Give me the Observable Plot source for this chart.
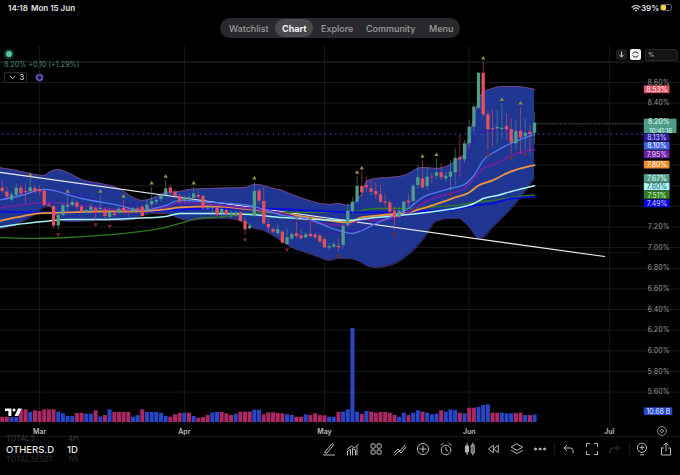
<!DOCTYPE html>
<html><head><meta charset="utf-8">
<script src="https://cdn.jsdelivr.net/npm/d3@7"></script>
<script src="https://cdn.jsdelivr.net/npm/@observablehq/plot@0.6"></script>
<style>
html,body{margin:0;padding:0;background:#000;width:680px;height:475px;overflow:hidden;font-family:Inter,Roboto,sans-serif}
#wrap{position:relative;width:680px;height:475px}
#chart{position:absolute;left:0;top:0}
.t{position:absolute;white-space:nowrap;line-height:1}
svg.ic{position:absolute;overflow:visible}
</style></head><body>
<div id="wrap"><div id="chart"></div><div id="chrome"></div></div>
<script>
// ---- data: daily candles, day 0 = 21 Feb ----
const opens=[7.576,7.540,7.460,7.505,7.576,7.544,7.540,7.573,7.560,7.547,7.414,7.398,7.211,7.311,7.392,7.408,7.434,7.392,7.334,7.360,7.376,7.369,7.366,7.292,7.327,7.334,7.382,7.350,7.343,7.373,7.392,7.360,7.414,7.440,7.466,7.505,7.579,7.537,7.498,
7.457,7.463,7.479,7.505,7.495,7.373,7.376,7.385,7.327,7.360,7.311,7.311,7.337,7.253,7.182,7.301,7.547,7.447,7.224,7.175,7.134,7.150,7.030,7.085,7.134,7.114,7.095,7.127,7.121,7.111,7.079,6.995,7.004,7.014,7.020,7.214,7.350,7.440,
7.592,7.600,7.569,7.544,7.511,7.444,7.434,7.353,7.295,7.343,7.450,7.447,7.602,7.666,7.592,7.682,7.692,7.725,7.666,7.682,7.725,7.870,7.850,8.006,8.167,8.351,8.690,8.287,8.151,8.151,8.144,8.173,8.144,8.006,8.128,8.077,8.119,8.109];
const closes=[7.544,7.489,7.511,7.576,7.521,7.531,7.579,7.540,7.540,7.408,7.402,7.208,7.311,7.408,7.408,7.440,7.392,7.343,7.360,7.392,7.337,7.379,7.301,7.343,7.311,7.373,7.343,7.337,7.376,7.360,7.301,7.414,7.447,7.457,7.505,7.570,7.528,7.498,7.440,
7.479,7.482,7.521,7.489,7.376,7.385,7.392,7.311,7.369,7.321,7.337,7.337,7.253,7.172,7.208,7.544,7.450,7.230,7.192,7.150,7.175,7.043,7.095,7.124,7.108,7.088,7.124,7.108,7.095,7.053,6.998,7.011,7.027,6.998,7.205,7.353,7.440,7.592,
7.531,7.580,7.537,7.511,7.440,7.431,7.343,7.288,7.353,7.440,7.431,7.595,7.676,7.579,7.682,7.676,7.725,7.676,7.692,7.731,7.867,7.850,8.006,8.167,8.361,8.690,8.287,8.144,8.141,8.167,8.157,8.141,8.015,8.128,8.064,8.109,8.096,8.206];
const highs=[7.650,7.586,7.537,7.618,7.602,7.618,7.666,7.602,7.602,7.560,7.430,7.408,7.327,7.424,7.505,7.473,7.457,7.408,7.376,7.424,7.392,7.505,7.385,7.376,7.350,7.392,7.457,7.366,7.392,7.392,7.408,7.457,7.586,7.479,7.521,7.650,7.602,7.560,7.521,
7.505,7.521,7.586,7.553,7.505,7.408,7.408,7.398,7.408,7.376,7.360,7.353,7.350,7.279,7.230,7.634,7.570,7.586,7.279,7.198,7.230,7.166,7.182,7.150,7.247,7.166,7.144,7.247,7.140,7.134,7.095,7.037,7.053,7.085,7.224,7.424,7.489,7.689,
7.731,7.682,7.650,7.634,7.602,7.521,7.456,7.392,7.392,7.456,7.521,7.618,7.796,7.844,7.779,7.715,7.860,7.812,7.731,7.844,7.957,8.086,8.038,8.232,8.377,8.690,8.797,8.329,8.329,8.329,8.393,8.297,8.248,8.232,8.361,8.248,8.183,8.312];
const lows=[7.521,7.457,7.440,7.473,7.505,7.424,7.521,7.521,7.505,7.392,7.390,7.182,7.166,7.295,7.327,7.392,7.360,7.327,7.321,7.327,7.263,7.327,7.279,7.247,7.295,7.321,7.327,7.301,7.327,7.327,7.295,7.327,7.392,7.408,7.440,7.489,7.505,7.473,7.424,
7.424,7.440,7.440,7.457,7.360,7.360,7.327,7.301,7.279,7.295,7.279,7.295,7.247,7.117,7.172,7.295,7.424,7.224,7.134,7.134,7.117,7.037,7.020,7.069,7.085,7.069,7.085,7.095,7.075,7.043,6.988,6.972,6.988,6.956,6.988,7.198,7.327,7.424,
7.489,7.530,7.505,7.473,7.424,7.392,7.295,7.166,7.279,7.327,7.392,7.424,7.569,7.569,7.553,7.618,7.650,7.650,7.634,7.553,7.602,7.682,7.812,7.957,8.119,8.335,8.264,7.941,7.973,8.006,8.054,8.038,7.909,7.941,7.909,7.941,7.909,8.006];
const volumes=[7.6,7.6,7.1,7.1,18.1,18.1,14.3,16.7,15.7,18.1,18.1,18.1,14.8,12.4,8.6,8.6,12.9,13.3,11.9,11.9,16.7,8.1,10.0,18.1,14.3,14.3,14.3,14.3,7.6,10.0,18.1,14.3,14.3,14.3,12.9,8.6,7.6,11.0,12.9,13.3,13.3,8.6,6.2,7.1,10.0,13.8,14.3,14.3,12.4,10.0,11.9,14.8,14.8,14.8,17.6,17.6,11.0,13.8,13.8,12.9,12.4,11.0,10.0,7.6,7.6,11.0,10.0,12.4,10.0,9.5,7.6,7.6,
14.3,14.8,18.1,134,14.8,11.9,15.7,14.8,13.3,14.3,14.3,13.3,10.0,7.6,13.3,10.0,13.3,16.7,14.8,13.3,11.0,11.9,16.7,14.8,18.1,17.1,13.3,12.4,20.5,20.5,21.4,24.3,25.2,13.3,13.3,13.3,12.4,12.4,12.9,13.3,10.0,10.0,10.68];
const volumeSides="DDUUDDUDDDDDUUUUDDUUDUDUDDDDUUDUUUUUDDDUDUDDDUUDDDUDDDUUDDDDDUUDDUDDDDUU"+"DUUUUDUDDDDDDUUDUUDUUUDUUUDUDDUUUDDUUUDDUDUDU";
const upMarkerDays=[6,14,21,26,32,35,41,54,63,66,76,77,90,93,103,107,111];
const downMarkerDays=[12,20,23,52,61,72,84,96,104,109,112];
// Bollinger band
const bandDays=[-1,3,7,9,10,12,14,17,21,25,28,30,33,35,38,40,44,48,52,54,56,58,60,62,65,68,70,72,74,76,77,78,80,83,86,90,93,96,98,99,100,101,102,103,105,107,110,112,114];
const bandUpper=[7.777,7.748,7.709,7.699,7.728,7.757,7.728,7.660,7.622,7.573,7.486,7.457,7.496,7.535,7.544,7.564,7.573,7.578,7.583,7.612,7.602,7.573,7.554,7.515,7.467,7.428,7.418,7.428,7.409,7.467,7.525,7.641,7.670,7.680,7.699,7.777,7.767,7.806,7.874,7.912,8.087,8.252,8.426,8.503,8.542,8.562,8.562,8.552,8.533];
const bandLower=[7.176,7.224,7.321,7.389,7.399,7.283,7.254,7.254,7.263,7.263,7.273,7.312,7.331,7.331,7.283,7.263,7.283,7.283,7.244,7.186,7.166,7.118,7.060,7.002,6.953,6.905,6.876,6.895,6.895,6.876,6.856,6.827,6.808,6.827,6.895,7.069,7.254,7.283,7.283,7.244,7.205,7.137,7.089,7.099,7.195,7.283,7.428,7.544,7.680];
// moving averages
const fastDays=[-1,4,9,17,25,30,35,38,45,53,60,65,72,75,77,80,83,87,90,93,96,99,101,103,106,108,111,114];
const fastVals=[7.457,7.505,7.564,7.476,7.409,7.360,7.409,7.457,7.438,7.409,7.312,7.283,7.166,7.137,7.166,7.234,7.292,7.379,7.486,7.535,7.573,7.612,7.699,7.845,7.941,7.990,8.048,8.10];
const purpleDays=[-1,7,10,17,25,35,38,45,53,60,67,74,77,80,87,90,93,96,99,101,103,106,109,114];
const purpleVals=[7.379,7.428,7.438,7.409,7.370,7.389,7.438,7.418,7.379,7.331,7.244,7.215,7.273,7.263,7.341,7.428,7.486,7.525,7.573,7.670,7.767,7.816,7.893,7.95];
const orangeDays=[-1,3,8,14,21,28,35,38,45,53,60,67,74,77,83,87,90,94,97,100,102,105,108,111,114];
const orangeVals=[7.254,7.292,7.331,7.341,7.350,7.350,7.370,7.389,7.399,7.370,7.331,7.283,7.244,7.292,7.321,7.341,7.379,7.438,7.486,7.535,7.602,7.651,7.719,7.767,7.80];
const cyanDays=[-1,3,9,14,21,28,35,38,45,53,60,67,74,80,87,94,98,101,103,106,109,114];
const cyanVals=[7.195,7.224,7.254,7.273,7.273,7.283,7.302,7.331,7.331,7.321,7.292,7.273,7.263,7.292,7.321,7.360,7.389,7.428,7.476,7.505,7.544,7.60];
const royalDays=[-1,8,21,35,45,55,66,75,80,87,94,97,101,105,109,114];
const royalVals=[7.350,7.341,7.341,7.360,7.379,7.379,7.360,7.341,7.341,7.350,7.360,7.370,7.409,7.428,7.476,7.49];
const greenDays=[-1,7,14,21,28,34,38,42,45,50,54,60,74,80,87,94,97,101,105,109,114];
const greenVals=[7.098,7.089,7.098,7.118,7.147,7.186,7.234,7.283,7.292,7.312,7.331,7.341,7.341,7.379,7.379,7.399,7.409,7.438,7.457,7.486,7.51];
const basisDays=[-1,10,25,40,55,70,76,80,86,90,94,97,99,102,107,114];
const basisVals=[7.467,7.554,7.418,7.409,7.389,7.147,7.166,7.244,7.302,7.457,7.554,7.651,7.796,8.116,8.135,8.13];
const trendDays=[-1,129];
const trendVals=[7.732,6.914];
// axis
const priceTicks=[8.6,8.4,7.2,7.0,6.8,6.6,6.4,6.2,6.0,5.8,5.6];
const gridTicks=[8.8,8.6,8.4,8.2,8.0,7.8,7.6,7.4,7.2,7.0,6.8,6.6,6.4,6.2,6.0,5.8,5.6];
const monthDays=[8,39,69,100,130];
const highPrice=8.797, lowPrice=6.95, lastPrice=8.20, fastPrice=8.10;
const badgeValues=[8.13,8.10,7.95,7.80,7.67,7.60,7.51,7.49];
const badgeFills=["#2a1c9a","#3e5ee8","#6a22a2","#ef8a2c","#4f9c8a","#a8f4f2","#2f7a1f","#0606dc"];
const badgeInks=["#d8d8ff","#fff","#eadcf5","#fff","#e8fff8","#1b5a60","#dfffd0","#d8d8ff"];

const day=i=>new Date(Date.UTC(2026,1,21)+i*864e5);
const candles=opens.map((o,i)=>({date:day(i),o,c:closes[i],h:highs[i],l:lows[i],up:closes[i]>=o}));
const UP="#4f9c8a",DOWN="#e4505f";
const volBase=5.305, volUnit=0.0068; // price-scale units per billion, pane shares the frame
const axisEnd=day(137.5), labelL=day(137.5), labelR=day(143), labelC=day(140.2);

const band=bandDays.map((d,i)=>({date:day(d),u:bandUpper[i],l:bandLower[i]}));
const series=(days,vals)=>days.map((d,i)=>({date:day(d),v:vals[i]}));
const ma=(days,vals,stroke,strokeWidth)=>Plot.line(series(days,vals),{x:"date",y:"v",stroke,strokeWidth,curve:"monotone-x"});

// badge layout: pushed down when they collide
const gap=0.082; let prev=8.146; const badges=[];
badgeValues.forEach((v,i)=>{const p=Math.min(v,prev-gap);prev=p;badges.push({p,t:v.toFixed(2)+"%",f:badgeFills[i],k:badgeInks[i]});});
const hb=0.038;

const plot=Plot.plot({
  width:680,height:475,marginLeft:0,marginRight:0,marginTop:46,marginBottom:50,
  style:{background:"#000",fontFamily:"Inter,Roboto,sans-serif"},
  x:{type:"utc",domain:[day(-0.364),day(145.25)],range:[0,680]},
  y:{domain:[5.2764,8.9488],range:[425,46]},
  marks:[
    Plot.gridY(gridTicks,{stroke:"#1a1a1a",strokeOpacity:1}),
    Plot.gridX(monthDays.map(day),{stroke:"#1a1a1a",strokeOpacity:1}),
    Plot.ruleY([highPrice,lowPrice],{x1:day(-1),x2:axisEnd,stroke:"#4a4a4a",strokeWidth:.7,strokeDasharray:"1 1.6"}),
    Plot.areaY(band,{x:"date",y1:"l",y2:"u",fill:"#1f3792",curve:"monotone-x"}),
    Plot.line(band,{x:"date",y:"u",stroke:"#7a3f80",strokeWidth:1,curve:"monotone-x"}),
    Plot.line(band,{x:"date",y:"l",stroke:"#5a3a86",strokeWidth:.8,curve:"monotone-x"}),
    ma(basisDays,basisVals,"#3420a4",1.4),
    Plot.ruleY([lastPrice],{x1:day(114),x2:axisEnd,stroke:"#5c8a80",strokeWidth:.7,strokeDasharray:"1 1.6"}),
    Plot.line(series(trendDays,trendVals),{x:"date",y:"v",stroke:"#eeeeee",strokeWidth:1.2}),
    ma(greenDays,greenVals,"#2f7a1f",1.3),
    ma(royalDays,royalVals,"#0a0ae6",1.8),
    ma(orangeDays,orangeVals,"#f0953f",1.8),
    ma(purpleDays,purpleVals,"#6a22a2",1.8),
    ma(cyanDays,cyanVals,"#a8f4f2",1.5),
    ma(fastDays,fastVals,"#4d7df0",1.3),
    Plot.ruleX(candles,{x:"date",y1:"l",y2:"h",stroke:d=>d.up?UP:DOWN,strokeOpacity:.7,strokeWidth:.8}),
    Plot.ruleX(candles,{x:"date",y1:"o",y2:"c",stroke:d=>d.up?UP:DOWN,strokeWidth:3.3}),
    Plot.ruleY([fastPrice],{x1:day(-1),x2:axisEnd,stroke:"#4a4fe0",strokeWidth:1.1,strokeDasharray:"1.2 4"}),
    Plot.dot(upMarkerDays,{x:day,y:i=>highs[i],dy:-4,symbol:"triangle",r:1.6,fill:"#8f8d3e",stroke:"none"}),
    Plot.dot(downMarkerDays,{x:day,y:i=>lows[i],dy:4,symbol:"triangle",rotate:180,r:1.6,fill:"#7c2a2c",stroke:"none"}),
    Plot.ruleX(volumes.map((v,i)=>({date:day(i),v,up:volumeSides[i]==="U"})),{x:"date",y1:volBase,y2:d=>volBase+d.v*volUnit,stroke:d=>d.up?"#2747c8":"#ab2862",strokeWidth:4}),
    Plot.axisY(priceTicks,{anchor:"right",tickSize:0,tickPadding:-33,tickFormat:d=>d.toFixed(2)+"%",fill:"#9a9a9a",fontSize:6.9,label:null}),
    Plot.axisX(monthDays.map(day),{anchor:"bottom",tickSize:0,tickPadding:4,tickFormat:d3.utcFormat("%b"),fill:"#bdbdbd",fontSize:7,fontWeight:600,label:null}),
    // price badges
    Plot.rect([8.53],{x1:labelL,x2:labelR,y1:d=>d-hb,y2:d=>d+hb,fill:"#e4505f"}),
    Plot.text([8.53],{x:labelC,y:d=>d,text:d=>d.toFixed(2)+"%",fill:"#fff",fontSize:6.9}),
    Plot.rect([8.20],{x1:labelL,x2:day(144.5),y1:8.105,y2:8.245,fill:"#4f9c8a"}),
    Plot.text([8.20],{x:day(140.6),y:8.215,text:d=>d.toFixed(2)+"%",fill:"#eafff8",fontSize:6.9}),
    Plot.text(["10:41:16"],{x:day(141),y:8.13,text:d=>d,fill:"#d8fff2",fontSize:6.2}),
    Plot.rect(badges,{x1:labelL,x2:labelR,y1:d=>d.p-hb,y2:d=>d.p+hb,fill:"f"}),
    Plot.text(badges,{x:labelC,y:"p",text:"t",fill:"k",fontSize:6.9}),
    Plot.rect([10.68],{x1:labelL,x2:day(143.6),y1:d=>volBase+d*volUnit-.005,y2:d=>volBase+d*volUnit+.07,fill:"#2747c8"}),
    Plot.text(["10.68 B"],{x:day(140.5),y:volBase+10.68*volUnit+.033,text:d=>d,fill:"#e4ecff",fontSize:6.9})
  ]
});
document.getElementById("chart").appendChild(plot);

// ---- app chrome ----
const ch=document.getElementById("chrome");
const tx=(s,x,y,size,color,weight)=>{const e=document.createElement("div");e.className="t";e.textContent=s;e.style.cssText=`left:${x}px;top:${y-size/2}px;font-size:${size}px;color:${color};font-weight:${weight||400}`;ch.appendChild(e);return e;};
const box=(x,y,w,h,css)=>{const e=document.createElement("div");e.style.cssText=`position:absolute;left:${x}px;top:${y}px;width:${w}px;height:${h}px;box-sizing:border-box;${css}`;ch.appendChild(e);return e;};
const ic=(x,y,w,h,inner)=>{ch.insertAdjacentHTML("beforeend",`<svg class="ic" style="left:${x}px;top:${y}px" width="${w}" height="${h}" viewBox="0 0 ${w} ${h}" fill="none" stroke="#b8b8b8" stroke-width="1" stroke-linecap="round" stroke-linejoin="round">${inner}</svg>`);};

tx("14:18",8,8,8,"#e4e4e4",600); tx("Mon 15 Jun",31,8,8,"#e4e4e4",600);
ic(631,4,10,8,'<path d="M1 3.2a6 6 0 0 1 8 0M2.6 5a3.6 3.6 0 0 1 4.8 0" stroke="#ddd" stroke-width="1.2"/><circle cx="5" cy="6.6" r=".9" fill="#ddd" stroke="none"/>');
tx("39%",641,8,8,"#e0e0e0",600);
box(660,3.5,12,7.5,"border:1px solid #666;border-radius:2.5px");
box(661,4.5,4.5,5.5,"background:#f2d13a;border-radius:1.2px");

box(220,18,240,20,"background:#29292d;border-radius:10px");
box(275,19,38,18,"background:#4a4a4e;border-radius:9px");
tx("Watchlist",229,28,9,"#9c9c9c",500);
tx("Chart",282,28,9,"#f4f4f4",700);
tx("Explore",321,28,9,"#9c9c9c",500);
tx("Community",366,28,9,"#9c9c9c",500);
tx("Menu",429,28,9,"#9c9c9c",500);

box(6,51,6,6,"background:#5cc5a0;border-radius:50%;box-shadow:0 0 0 2.2px #12362c");
tx("8.20% +0.10 (+1.29%)",4,64.5,7.2,"#3f8f74",400);
box(4,72,23,11,"border:1px solid #2c2c2c;border-radius:2px");
ic(9,75,7,5,'<path d="M1 1.2l2.5 2.5L6 1.2" stroke="#ccc"/>');
tx("3",19.5,77.5,7.5,"#cfcfcf",500);
box(35,73,9,9,"background:#1d1440;border-radius:50%");
ic(35,73,9,9,'<circle cx="4.5" cy="4.5" r="2.8" stroke="#8a78e8" stroke-width="1.1" stroke-dasharray="3.5 1"/>');

box(616,49,11,11,"background:#1c1c1c;border-radius:2px");
ic(618,51,7,7,'<path d="M3.5 .8v5M1.5 4l2 2 2-2" stroke="#ccc"/>');
box(630,49,11,11,"background:#f2f2f2;border-radius:2px");
ic(632,51,7,7,'<path d="M.8 2.4a2.8 2 0 0 1 5.4 0M.8 4.6a2.8 2 0 0 0 5.4 0" stroke="#222"/>');
box(645,49,33,12,"background:#141414;border:1px solid #262626;border-radius:2px");
tx("%",648,55,6.5,"#bbb",400);

// TradingView mark
ic(5,408,17,9,'<path d="M0 .5h6.4v7.6H3.4V3H0z" fill="#fff" stroke="none"/><circle cx="9" cy="2" r="1.5" fill="#fff" stroke="none"/><path d="M13 .5h3.8l-3.6 7.6H9.6z" fill="#fff" stroke="none"/>');
// bottom bar
box(0,436,680,39,"background:#000;border-top:1px solid #171717");
tx("TOTAL3",6,438.5,7.5,"#333",500);
tx("4H",68,438.5,7.5,"#333",500);
tx("OTHERS.D",6,449.5,9.5,"#e8e8e8",500);
tx("1D",67,449.5,9.5,"#e8e8e8",500);
tx("TOTAL3ESBT",6,460,7.5,"#262626",500);
tx("1W",68,460,7.5,"#262626",500);
ic(656,425,12,12,'<circle cx="6" cy="6" r="4.4" stroke="#8a8a8a"/><circle cx="6" cy="6" r="1.5" stroke="#8a8a8a"/>');
const bar=(cx,inner,stroke)=>ic(cx-7,442,14,14,stroke?`<g stroke="${stroke}">${inner}</g>`:inner);
bar(329,'<path d="M3 10L9.5 2.2c1-1 2.4.2 1.5 1.3L5 11H3zM1.5 13h11"/>');
bar(353,'<path d="M1.5 13V9l3-1.5V13M6.5 13V6.5l3 1.5v5M11 13V5M1.5 7l4-3 3 2 4-4"/>');
bar(376,'<rect x="2" y="2" width="4.2" height="4.2" rx="1"/><rect x="8" y="2" width="4.2" height="4.2" rx="1"/><rect x="2" y="8" width="4.2" height="4.2" rx="1"/><rect x="8" y="8" width="4.2" height="4.2" rx="1"/>');
bar(400,'<path d="M1 11l4-4 2 2 5-6M2 13l4-4 2 2 5-6"/>');
bar(423,'<circle cx="7" cy="7" r="5.6"/><path d="M7 4v6M4 7h6"/>');
bar(446,'<circle cx="7" cy="8" r="4.8"/><path d="M7 5.5V8l2 1M2 3l2-1.5M12 3l-2-1.5"/>');
bar(470,'<rect x="2.8" y="4" width="2.6" height="6" fill="#b8b8b8"/><rect x="8.6" y="3" width="2.6" height="8"/><path d="M4.1 1.5v11M9.9 1v12"/>');
bar(493,'<path d="M7 3.5L2.5 7 7 10.5zM12 3.5L7.5 7l4.5 3.5z"/>');
bar(517,'<path d="M7 2l5.6 3.2L7 8.4 1.4 5.2zM1.4 8.4L7 11.6l5.6-3.2"/>');
bar(540,'<circle cx="2.5" cy="7" r="1" fill="#b8b8b8"/><circle cx="7" cy="7" r="1" fill="#b8b8b8"/><circle cx="11.5" cy="7" r="1" fill="#b8b8b8"/>');
box(554,443,1,12,"background:#1e1e1e");
bar(568,'<path d="M3 6h6.5a2.5 2.5 0 0 1 2.5 2.5V11M5.5 3.5L3 6l2.5 2.5"/>');
bar(592,'<path d="M1.5 4.5V1.5h3M9.5 1.5h3v3M12.5 9.5v3h-3M4.5 12.5h-3v-3"/>');
bar(615,'<path d="M11 6H4.5A2.5 2.5 0 0 0 2 8.5V11M8.5 3.5L11 6 8.5 8.5"/>',"#3a3a3a");
box(629,443,1,12,"background:#1e1e1e");
bar(642,'<circle cx="7" cy="5.8" r="4.6"/><path d="M5.4 12.8h3.2M7 3.6v4M5 5.6h4"/>');
bar(666,'<path d="M2.5 6h2M9.5 6h2v7h-9V6M7 9V1M4.8 3.2L7 1l2.2 2.2"/>');
</script>
</body></html>
